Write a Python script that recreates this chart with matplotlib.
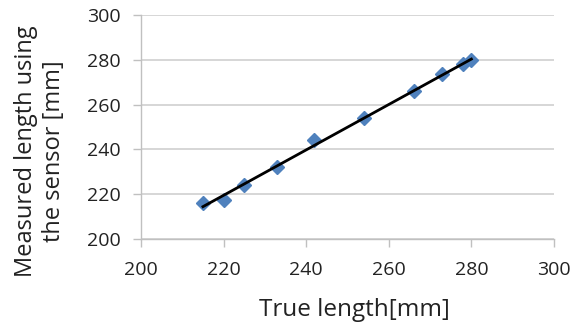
import numpy as np
import matplotlib
matplotlib.use("Agg")
import matplotlib.pyplot as plt

true_len = [215, 220, 225, 233, 242, 254, 266, 273, 278, 280]
measured = [216, 217.5, 224, 232, 244, 254, 266, 273.5, 278, 280]
xticks = [200, 220, 240, 260, 280, 300]
yticks = [200, 220, 240, 260, 280, 300]

plt.rcParams['font.family'] = ['Open Sans', 'DejaVu Sans']
fig = plt.figure(figsize=(5.72, 3.25), dpi=100)
ax = fig.add_axes([0.2465, 0.2646, 0.722, 0.6892])

ax.plot(true_len, measured, linestyle='none', marker='D', markersize=7,
        color='#4F81BD', zorder=3)
coef = np.polyfit(true_len, measured, 1)
xs = np.array([min(true_len), max(true_len)])
ax.plot(xs, np.polyval(coef, xs), color='black', lw=2, zorder=4)

ax.set_xlim(200, 300)
ax.set_ylim(200, 300)
ax.set_xticks(xticks)
ax.set_yticks(yticks)
ax.grid(axis='y', color='#D0D0D0', lw=1.2)
ax.set_axisbelow(True)
for s in ['top', 'right']:
    ax.spines[s].set_visible(False)
for s in ['left', 'bottom']:
    ax.spines[s].set_color('#C0C0C0')
    ax.spines[s].set_linewidth(1.0)
ax.tick_params(axis='both', colors='#C0C0C0', labelcolor='#222222',
               labelsize=14, length=5.5, width=1)
ax.tick_params(axis='y', pad=9)
ax.tick_params(axis='x', pad=10)
ax.set_xlabel('True length[mm]', fontsize=17.5, color='#222222')
ax.xaxis.label.set_verticalalignment('center')
ax.xaxis.set_label_coords(0.516, -0.317)
ax.set_ylabel('Measured length using\nthe sensor [mm]', fontsize=17,
              color='#222222', linespacing=1.2)
ax.yaxis.label.set_verticalalignment('center')
ax.yaxis.set_label_coords(-0.2446, 0.393)
fig.savefig('out.png', dpi=100)
